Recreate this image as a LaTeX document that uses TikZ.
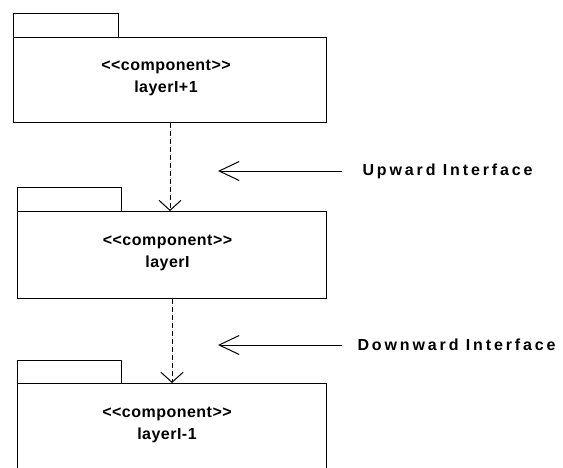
\documentclass[tikz,border=0pt]{standalone}
\usepackage{fontspec}
\setmainfont{Liberation Sans}
\newfontfamily\boxfont[LetterSpace=3]{Liberation Sans Bold}
\newfontfamily\labelfont[LetterSpace=18]{Liberation Sans Bold}
\usetikzlibrary{arrows.meta}

\begin{document}
\begin{tikzpicture}[x=1pt, y=-1pt, line width=1pt,
  pkgtab/.style={draw, rectangle, inner sep=0pt, anchor=north west},
  pkgbody/.style={draw, rectangle, inner sep=0pt, anchor=north west},
  pkgtext/.style={align=center, inner sep=0pt,
    font=\boxfont\fontsize{16}{22}\selectfont},
  iflabel/.style={anchor=west, inner sep=0pt,
    font=\labelfont\fontsize{16}{20}\selectfont},
  dep/.style={dash pattern=on 5pt off 3pt,
    -{Straight Barb[length=10pt, width=22pt]}},
  iface/.style={-{Straight Barb[length=20pt, width=19pt]}}]

\useasboundingbox (0,0) rectangle (563,467);

% package layerI+1
\node[pkgtab, minimum width=105pt, minimum height=24pt] (t1) at (13,13) {};
\node[pkgbody, minimum width=313pt, minimum height=85pt] (b1) at (13,37) {};
\node[pkgtext] (n1) at (166,77.5) {<<component>>\\layerI+1};

% package layerI
\node[pkgtab, minimum width=104pt, minimum height=24pt] (t2) at (17,187) {};
\node[pkgbody, minimum width=309pt, minimum height=87pt] (b2) at (17,211) {};
\node[pkgtext] (n2) at (167.5,253) {<<component>>\\layerI};

% package layerI-1 (runs off the lower edge)
\node[pkgtab, minimum width=104pt, minimum height=23pt] (t3) at (17,360) {};
\node[pkgbody, minimum width=309pt, minimum height=120pt] (b3) at (17,383) {};
\node[pkgtext] (n3) at (167,424.5) {<<component>>\\layerI-1};

% dependencies between the layers
\draw[dep] (b1.south) -- (b1.south |- b2.north);
\draw[dep] (b2.south) -- (b2.south |- b3.north);

% interface labels with their pointers
\node[iflabel] (up) at (362,171) {Upward Interface};
\coordinate (uptip) at (218,171);
\draw[iface] ([xshift=-20pt]up.west) -- (uptip);

\node[iflabel] (down) at (357,345) {Downward Interface};
\coordinate (downtip) at (218,345);
\draw[iface] ([xshift=-15pt]down.west) -- (downtip);
\end{tikzpicture}
\end{document}
